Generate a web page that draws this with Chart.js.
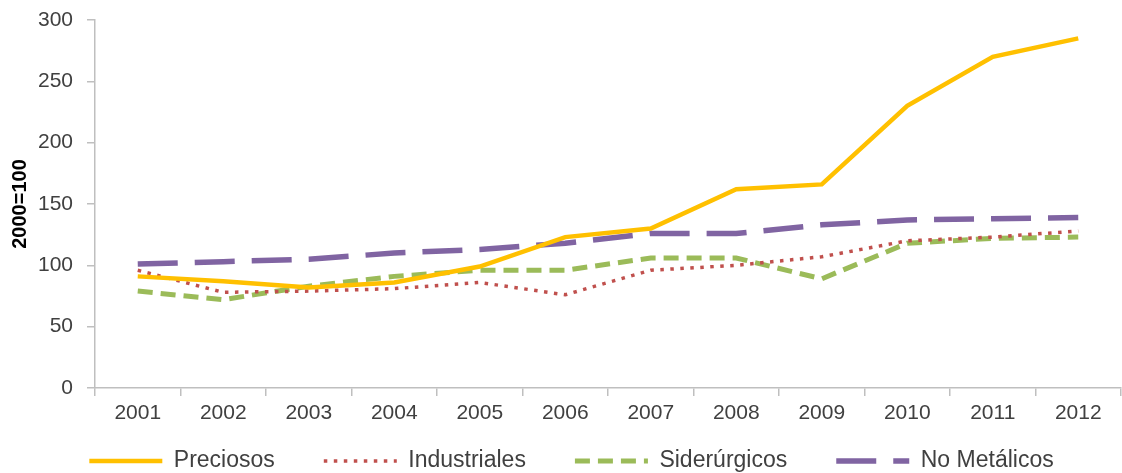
<!DOCTYPE html>
<html>
<head>
<meta charset="utf-8">
<script src="https://cdn.jsdelivr.net/npm/chart.js@4/dist/chart.umd.min.js"></script>
<style>
    html, body { margin: 0; padding: 0; background: #fff; }
    #wrap { width: 1122px; height: 473px; }
</style>
</head>
<body>
<div id="wrap"><canvas id="chart"></canvas></div>
<script>
var years = ["2001", "2002", "2003", "2004", "2005", "2006", "2007", "2008", "2009", "2010", "2011", "2012"];
var preciosos    = [91, 87, 82, 86, 99, 123, 130, 162, 166, 230, 270, 285];
var industriales = [96, 78, 79, 81, 86, 76, 96, 100, 107, 120, 123, 128];
var siderurgicos = [79, 72, 83, 91, 96, 96, 106, 106, 89, 118, 122, 123];
var noMetalicos  = [101, 103, 105, 110, 113, 118, 126, 126, 133, 137, 138, 139];
var yTicks = [0, 50, 100, 150, 200, 250, 300];

var FONT = "'Liberation Sans', Arial, sans-serif";
var AXIS_GRAY = "#BFBFBF";
var LEGEND_TOP = 400.5;
var LEGEND_SHIFT_X = 11;

function line(label, data, color, width, dash) {
    return {
        label: label,
        data: data,
        borderColor: color,
        backgroundColor: color,
        borderWidth: width,
        borderDash: dash,
        borderCapStyle: "butt",
        pointRadius: 0,
        tension: 0,
        fill: false
    };
}

// legend labels padding also pushes the row down, so move the legend box up after layout
// (the legend clips to its own box, so the bottom has to follow too)
var legendShift = {
    id: "legendShift",
    afterLayout: function (chart) {
        var lg = chart.legend;
        if (!lg) return;
        lg.top = LEGEND_TOP;
        lg.bottom = chart.height;
        lg.left += LEGEND_SHIFT_X;
        lg.right += LEGEND_SHIFT_X;
    }
};

new Chart(document.getElementById("chart"), {
    type: "line",
    data: {
        labels: years,
        datasets: [
            line("Preciosos", preciosos, "#FFC000", 4.5, []),
            line("Industriales", industriales, "#C0504D", 3.5, [3.5, 6.5]),
            line("Siderúrgicos", siderurgicos, "#9BBB59", 5, [15, 8]),
            line("No Metálicos", noMetalicos, "#8064A2", 5.5, [40, 17])
        ]
    },
    plugins: [legendShift],
    options: {
        responsive: true,
        maintainAspectRatio: false,
        animation: false,
        layout: { padding: { top: 20, right: 1, left: 0, bottom: -1 } },
        plugins: {
            tooltip: { enabled: false },
            legend: {
                position: "bottom",
                maxHeight: 46,
                labels: {
                    usePointStyle: true,
                    pointStyle: "line",
                    pointStyleWidth: 73,
                    padding: 49,
                    color: "#404040",
                    font: { family: FONT, size: 23 },
                    generateLabels: function (chart) {
                        var items = Chart.defaults.plugins.legend.labels.generateLabels(chart);
                        items.forEach(function (item) {
                            var ds = chart.data.datasets[item.datasetIndex];
                            item.lineDash = ds.borderDash;
                            item.lineWidth = ds.borderWidth;
                            item.strokeStyle = ds.borderColor;
                            item.fillStyle = ds.borderColor;
                            item.lineCap = ds.borderCapStyle;
                        });
                        return items;
                    }
                }
            }
        },
        scales: {
            x: {
                offset: true,
                grid: { offset: true, drawOnChartArea: false, drawTicks: true, tickLength: 8, color: AXIS_GRAY, lineWidth: 1.5 },
                border: { color: AXIS_GRAY, width: 1.5 },
                ticks: { color: "#404040", font: { family: FONT, size: 21 }, padding: 5, maxRotation: 0 },
                afterFit: function (scale) { scale.height = 40; }
            },
            y: {
                min: 0,
                max: 300,
                afterBuildTicks: function (scale) {
                    scale.ticks = yTicks.map(v => ({ value: v }));
                },
                grid: { drawOnChartArea: false, drawTicks: true, tickLength: 8, color: AXIS_GRAY, lineWidth: 1.5 },
                border: { color: AXIS_GRAY, width: 1.5 },
                ticks: { color: "#404040", font: { family: FONT, size: 21 }, padding: 14 },
                title: {
                    display: true,
                    text: "2000=100",
                    color: "#000",
                    font: { family: FONT, size: 20, weight: "bold" },
                    padding: { top: 8, bottom: 0 }
                },
                afterFit: function (scale) {
                    scale.width = 95;
                    scale.paddingTop = 0;
                    scale.paddingBottom = 0;
                }
            }
        }
    }
});
</script>
</body>
</html>
